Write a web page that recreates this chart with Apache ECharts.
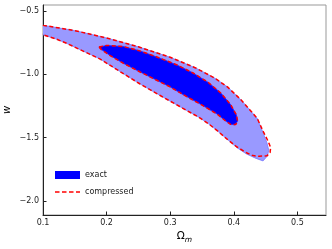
<!DOCTYPE html>
<html>
<head>
<meta charset="utf-8">
<script src="https://cdn.jsdelivr.net/npm/echarts@6/dist/echarts.min.js"></script>
<style>
html,body{margin:0;padding:0;background:#fff;}
#c{width:332px;height:249px;}
</style>
</head>
<body>
<div id="c"></div>
<script>
// Tick labels
var xTicks = [0.1, 0.2, 0.3, 0.4, 0.5];
var yTicks = [-2.0, -1.5, -1.0, -0.5];

// "exact" contours [Omega_m, w]
var exactOuter = [
  [0.09,-0.600],[0.10,-0.613],[0.15,-0.655],[0.20,-0.713],[0.25,-0.783],[0.30,-0.866],
  [0.34,-0.950],[0.37,-1.030],[0.39,-1.100],[0.41,-1.195],[0.425,-1.280],[0.437,-1.350],
  [0.446,-1.460],[0.452,-1.540],[0.455,-1.600],[0.453,-1.645],[0.446,-1.685],
  [0.435,-1.665],[0.42,-1.630],[0.405,-1.580],[0.39,-1.515],[0.375,-1.450],[0.36,-1.390],
  [0.345,-1.340],[0.315,-1.255],[0.285,-1.170],[0.252,-1.075],[0.22,-0.975],[0.19,-0.880],
  [0.137,-0.755],[0.12,-0.720],[0.10,-0.688],[0.09,-0.675]
];
var exactInner = [
  [0.188,-0.785],[0.20,-0.772],[0.226,-0.780],[0.252,-0.815],[0.28,-0.865],[0.31,-0.925],
  [0.336,-0.990],[0.36,-1.065],[0.38,-1.150],[0.395,-1.240],[0.404,-1.320],[0.406,-1.370],
  [0.402,-1.400],[0.395,-1.396],[0.388,-1.372],[0.373,-1.312],[0.346,-1.232],[0.320,-1.160],
  [0.300,-1.100],[0.278,-1.045],[0.252,-0.980],[0.226,-0.912],[0.205,-0.850],[0.192,-0.805],
  [0.188,-0.785]
];
// "compressed" contours [Omega_m, w]
var compOuter = [
  [0.09,-0.600],[0.10,-0.613],[0.15,-0.655],[0.20,-0.713],[0.25,-0.783],[0.30,-0.866],
  [0.34,-0.950],[0.37,-1.030],[0.39,-1.100],[0.41,-1.195],[0.425,-1.280],[0.437,-1.350],
  [0.447,-1.460],[0.454,-1.530],[0.458,-1.580],[0.457,-1.620],[0.452,-1.645],
  [0.440,-1.648],[0.430,-1.643],[0.42,-1.620],[0.405,-1.575],[0.39,-1.515],[0.375,-1.450],[0.36,-1.390],
  [0.345,-1.340],[0.315,-1.255],[0.285,-1.170],[0.252,-1.075],[0.22,-0.975],[0.19,-0.880],
  [0.137,-0.755],[0.12,-0.720],[0.10,-0.688],[0.09,-0.675]
];
var compInner = [
  [0.188,-0.785],[0.20,-0.772],[0.226,-0.780],[0.252,-0.815],[0.28,-0.865],[0.31,-0.925],
  [0.336,-0.990],[0.36,-1.065],[0.38,-1.150],[0.395,-1.240],[0.404,-1.320],[0.406,-1.370],
  [0.403,-1.398],[0.395,-1.396],[0.388,-1.372],[0.373,-1.312],[0.346,-1.232],[0.320,-1.160],
  [0.300,-1.100],[0.278,-1.045],[0.252,-0.980],[0.226,-0.912],[0.205,-0.850],[0.192,-0.805],
  [0.188,-0.785]
];

var FONT = 'DejaVu Sans';
function fmt(v){ var s = Math.abs(v).toFixed(1); return v < 0 ? '\u2212' + s : s; }

function polySeries(pts, fill, stroke){
  return {
    type: 'custom', name: 'exact', clip: true, silent: true,
    data: pts,
    itemStyle: {color: '#0000ff'},
    renderItem: function(params, api){
      if (params.dataIndex !== 0) return null;
      var p = pts.map(function(d){ return api.coord(d); });
      return {type: 'polygon', shape: {points: p},
        style: {fill: fill, stroke: stroke, lineWidth: 0.8}};
    },
    z: 2
  };
}
function lineSeries(pts){
  return {
    type: 'line', name: 'compressed', data: pts, symbol: 'none', showSymbol: false,
    clip: true, silent: true,
    itemStyle: {color: '#ff0000'},
    lineStyle: {color: '#ff0000', width: 1.5, type: [4, 2.5]},
    z: 5
  };
}

var DASH_ICON = 'path://M0,0M25,8M0,3.25h4.5v1.5h-4.5zM7,3.25h4.5v1.5h-4.5zM14,3.25h4.5v1.5h-4.5zM21,3.25h4v1.5h-4z';

var chart = echarts.init(document.getElementById('c'), null, {renderer: 'canvas'});
chart.setOption({
  animation: false,
  backgroundColor: '#fff',
  grid: {left: 43, right: 6, top: 5, bottom: 34, show: true, borderColor: '#999', borderWidth: 1,
         containLabel: false, outerBoundsMode: 'none'},
  xAxis: {
    type: 'value', min: 0.1, max: 0.545,
    name: '{a|\u03A9}{b|m}', nameLocation: 'middle', nameGap: 14, nameMoveOverlap: false,
    nameTextStyle: {rich: {
      a: {fontFamily: FONT, fontSize: 10.5, color: '#000'},
      b: {fontFamily: FONT, fontSize: 7.5, fontStyle: 'italic', color: '#000', padding: [7, 0, 0, 0]}
    }},
    axisLine: {lineStyle: {color: '#222', width: 1}},
    axisTick: {inside: true, length: 3.5, lineStyle: {color: '#222'}, customValues: xTicks},
    axisLabel: {customValues: xTicks, formatter: fmt, fontFamily: FONT, fontSize: 8, color: '#222', margin: 4},
    splitLine: {show: false}
  },
  yAxis: {
    type: 'value', min: -2.1125, max: -0.4525,
    name: 'w', nameLocation: 'middle', nameGap: 31, nameRotate: 90, nameMoveOverlap: false,
    nameTextStyle: {fontFamily: FONT, fontSize: 10, fontStyle: 'italic', color: '#000'},
    axisLine: {show: true, lineStyle: {color: '#222', width: 1}},
    axisTick: {show: true, inside: true, length: 3.5, lineStyle: {color: '#222'}, customValues: yTicks},
    axisLabel: {customValues: yTicks, formatter: fmt, fontFamily: FONT, fontSize: 8, color: '#222', margin: 4},
    splitLine: {show: false}
  },
  legend: {
    orient: 'vertical', left: 50, top: 166, itemWidth: 25, itemHeight: 8, itemGap: 9,
    textStyle: {fontFamily: FONT, fontSize: 8, color: '#222'},
    data: [
      {name: 'exact', icon: 'rect', itemStyle: {color: '#0000ff', borderWidth: 0}},
      {name: 'compressed', icon: DASH_ICON, itemStyle: {color: '#ff0000', borderWidth: 0}}
    ],
    selectedMode: false
  },
  series: [
    polySeries(exactOuter, '#9999ff', '#7777ff'),
    polySeries(exactInner, '#0000ff', '#2222ff'),
    lineSeries(compOuter),
    lineSeries(compInner)
  ]
});
</script>
</body>
</html>
